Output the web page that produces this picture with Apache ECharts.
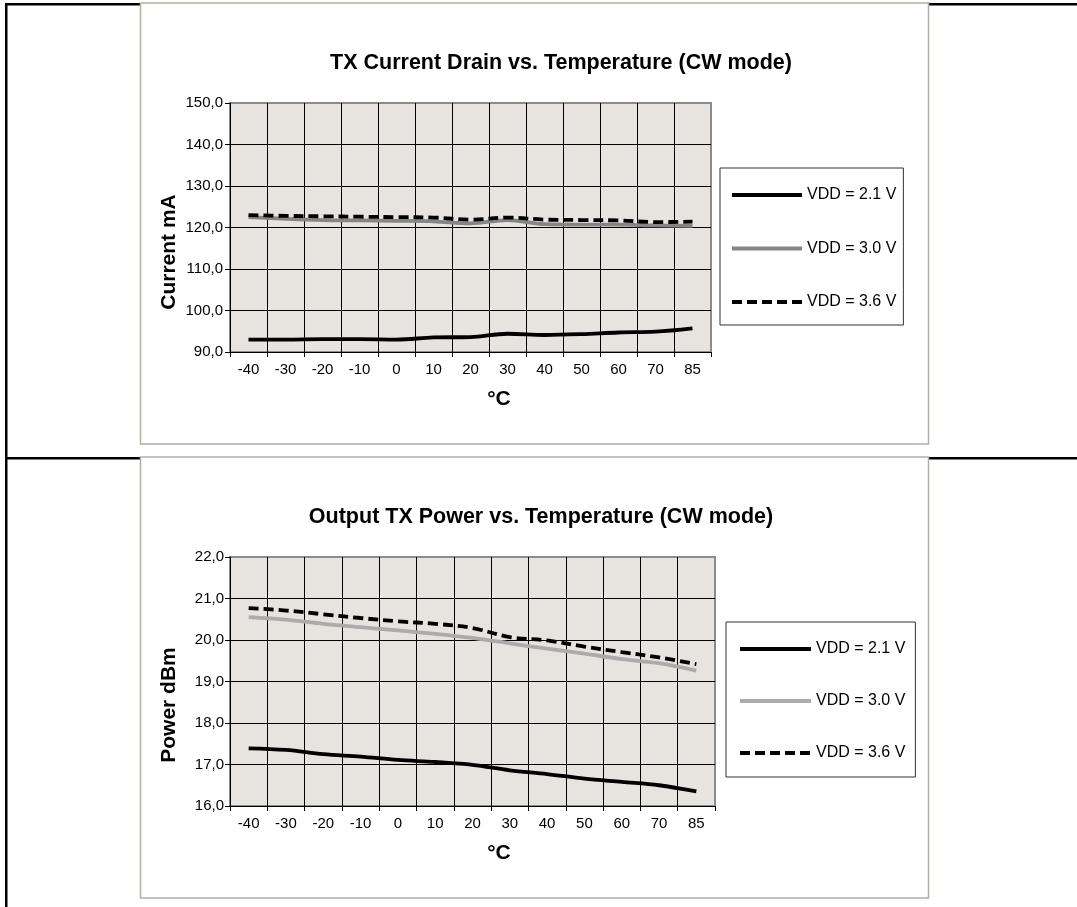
<!DOCTYPE html>
<html>
<head>
<meta charset="utf-8">
<script src="https://cdn.jsdelivr.net/npm/echarts@6/dist/echarts.min.js"></script>
<style>
html,body{margin:0;padding:0;background:#fff;}
#chart{width:1077px;height:907px;}
</style>
</head>
<body>
<div id="chart"></div>
<script>
// ---- data ----
const categories = ['-40','-30','-20','-10','0','10','20','30','40','50','60','70','85'];
const seriesNames = ['VDD = 2.1 V', 'VDD = 3.0 V', 'VDD = 3.6 V'];

const currentTitle = 'TX Current Drain vs. Temperature (CW mode)';
const currentAxisName = 'Current mA';
const currentMin = 90, currentMax = 150, currentStep = 10;
const currentVdd21 = [93.0, 93.0, 93.1, 93.1, 93.0, 93.5, 93.6, 94.4, 94.1, 94.3, 94.7, 94.9, 95.7];
const currentVdd30 = [122.5, 122.1, 121.8, 121.7, 121.6, 121.5, 121.0, 121.8, 120.8, 120.7, 120.7, 120.5, 120.4];
const currentVdd36 = [123.0, 122.8, 122.7, 122.6, 122.5, 122.4, 121.9, 122.4, 121.9, 121.8, 121.7, 121.3, 121.4];

const powerTitle = 'Output TX Power vs. Temperature (CW mode)';
const powerAxisName = 'Power dBm';
const powerMin = 16, powerMax = 22, powerStep = 1;
const powerVdd21 = [17.39, 17.35, 17.25, 17.19, 17.11, 17.06, 16.99, 16.86, 16.77, 16.66, 16.58, 16.50, 16.35];
const powerVdd30 = [20.55, 20.49, 20.39, 20.31, 20.23, 20.15, 20.05, 19.92, 19.79, 19.67, 19.54, 19.44, 19.26];
const powerVdd36 = [20.77, 20.71, 20.62, 20.53, 20.45, 20.39, 20.29, 20.07, 19.99, 19.84, 19.71, 19.58, 19.42];

const xAxisName = '°C';

// ---- chart ----
const FONT = '"Liberation Sans", Arial, sans-serif';
const chart = echarts.init(document.getElementById('chart'), null, {renderer: 'canvas'});

function fmt(v){ return v.toFixed(1).replace('.', ','); }
function edgeColors(n){ const a=[]; for(let i=0;i<n;i++) a.push(i===n-1?'#8c8c8c':'#000'); return a; }

function xAxisCfg(gi){
  return {
    type:'category', gridIndex:gi, data:categories, boundaryGap:true,
    axisLine:{show:true, lineStyle:{color:'#000', width:1}},
    axisTick:{show:true, interval:0, length:5, lineStyle:{color:'#000'}},
    axisLabel:{interval:0, color:'#000', fontFamily:FONT, fontSize:15, margin:10},
    splitLine:{show:true, interval:0, lineStyle:{color:edgeColors(categories.length+1), width:1}}
  };
}
function yAxisCfg(gi, mn, mx, st, margin){
  return {
    type:'value', gridIndex:gi, min:mn, max:mx, interval:st,
    axisLine:{show:true, lineStyle:{color:'#000', width:1}},
    axisTick:{show:true, length:5, lineStyle:{color:'#000'}},
    axisLabel:{color:'#000', fontFamily:FONT, fontSize:15, margin:margin, formatter:fmt},
    splitLine:{show:true, lineStyle:{color:edgeColors(Math.round((mx-mn)/st)+1), width:1}}
  };
}
function lineSeries(name, data, gi, color, dashed){
  return {
    type:'line', name:name, xAxisIndex:gi, yAxisIndex:gi, data:data,
    smooth:0.35, showSymbol:false, symbol:'none', animation:false,
    lineStyle:{color:color, width:3.8, type: dashed ? [10,5] : 'solid'},
    itemStyle:{color:color}
  };
}

const gray1 = '#858585', gray2 = '#ababab';
const hiddenSymbol = {color:'rgba(0,0,0,0)', borderWidth:0, opacity:0};

const option = {
  animation:false,
  backgroundColor:'#fff',
  grid:[
    {left:230, top:103, width:481, height:249, show:true, backgroundColor:'#e7e4df', borderColor:'#8c8c8c', borderWidth:2},
    {left:230, top:557, width:485, height:249, show:true, backgroundColor:'#e7e4df', borderColor:'#8c8c8c', borderWidth:2}
  ],
  xAxis:[xAxisCfg(0), xAxisCfg(1)],
  yAxis:[yAxisCfg(0, currentMin, currentMax, currentStep, 7), yAxisCfg(1, powerMin, powerMax, powerStep, 6)],
  legend:[
    {orient:'vertical', left:720, top:168, itemWidth:70, itemHeight:16, itemGap:37.5,
     padding:[19,7,15,10], borderColor:'#333', borderWidth:1, backgroundColor:'#fff',
     itemStyle:hiddenSymbol, lineStyle:{width:4},
     textStyle:{color:'#000', fontFamily:FONT, fontSize:16}, selectedMode:false,
     data:seriesNames.map(n=>({name:n}))},
    {orient:'vertical', left:726, top:622, itemWidth:71, itemHeight:16, itemGap:36,
     padding:[19,10,16,12], borderColor:'#333', borderWidth:1, backgroundColor:'#fff',
     itemStyle:hiddenSymbol, lineStyle:{width:4},
     textStyle:{color:'#000', fontFamily:FONT, fontSize:16}, selectedMode:false,
     data:[{name:seriesNames[0]}, {name:seriesNames[1], lineStyle:{color:gray2}}, {name:seriesNames[2]}]}
  ],
  series:[
    lineSeries(seriesNames[0], currentVdd21, 0, '#000', false),
    lineSeries(seriesNames[1], currentVdd30, 0, gray1, false),
    lineSeries(seriesNames[2], currentVdd36, 0, '#000', true),
    lineSeries(seriesNames[0], powerVdd21, 1, '#000', false),
    lineSeries(seriesNames[1], powerVdd30, 1, gray2, false),
    lineSeries(seriesNames[2], powerVdd36, 1, '#000', true)
  ],
  graphic:[
    {type:'rect', z:-20, shape:{x:5, y:3, width:1072, height:2.5}, style:{fill:'#000'}},
    {type:'rect', z:-20, shape:{x:5, y:457, width:1072, height:2.5}, style:{fill:'#000'}},
    {type:'rect', z:-20, shape:{x:5, y:3, width:2.5, height:904}, style:{fill:'#000'}},
    {type:'rect', z:-10, shape:{x:140.5, y:3, width:788, height:441}, style:{fill:'#fff', stroke:'#b3afa3', lineWidth:1.5}},
    {type:'rect', z:-10, shape:{x:140.5, y:457, width:788, height:441}, style:{fill:'#fff', stroke:'#b3afa3', lineWidth:1.5}},
    {type:'text', z:50, x:561, y:63, style:{text:currentTitle, font:'bold 21.5px '+FONT, fill:'#000', textAlign:'center', textVerticalAlign:'middle'}},
    {type:'text', z:50, x:541, y:517, style:{text:powerTitle, font:'bold 21.5px '+FONT, fill:'#000', textAlign:'center', textVerticalAlign:'middle'}},
    {type:'text', z:50, x:169, y:252, rotation:Math.PI/2, style:{text:currentAxisName, font:'bold 21px '+FONT, fill:'#000', textAlign:'center', textVerticalAlign:'middle'}},
    {type:'text', z:50, x:169, y:705, rotation:Math.PI/2, style:{text:powerAxisName, font:'bold 21px '+FONT, fill:'#000', textAlign:'center', textVerticalAlign:'middle'}},
    {type:'text', z:50, x:499, y:399, style:{text:xAxisName, font:'bold 21px '+FONT, fill:'#000', textAlign:'center', textVerticalAlign:'middle'}},
    {type:'text', z:50, x:499, y:853, style:{text:xAxisName, font:'bold 21px '+FONT, fill:'#000', textAlign:'center', textVerticalAlign:'middle'}}
  ]
};
chart.setOption(option);
</script>
</body>
</html>
